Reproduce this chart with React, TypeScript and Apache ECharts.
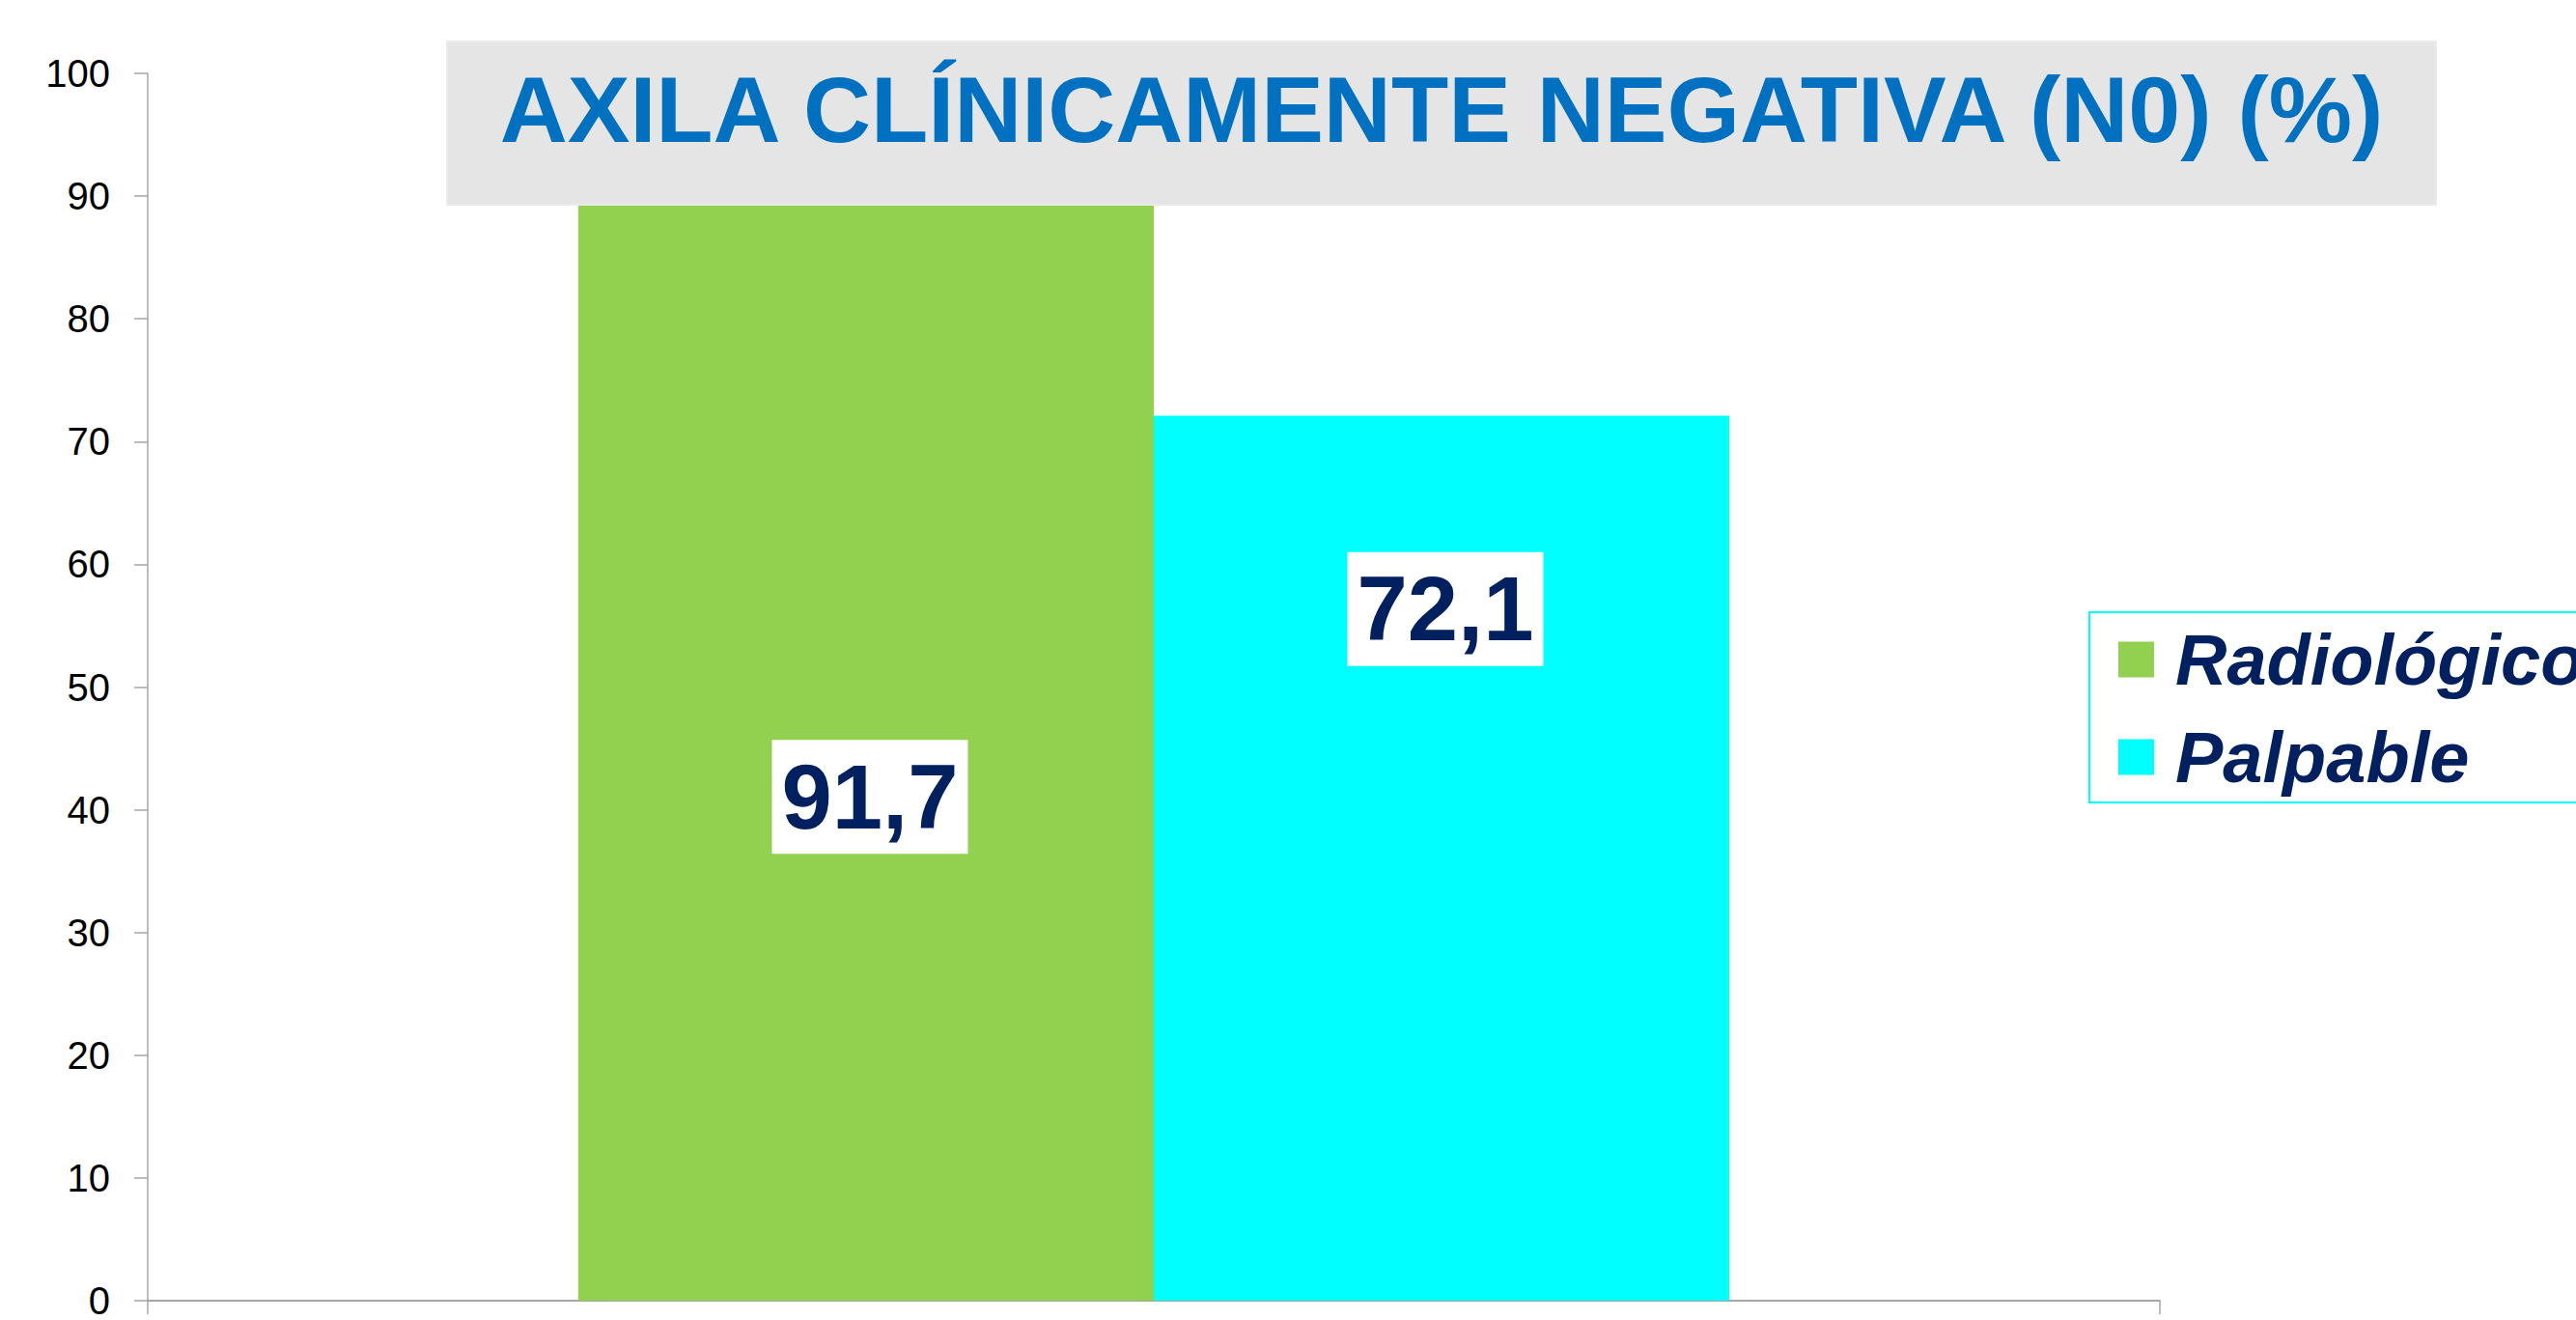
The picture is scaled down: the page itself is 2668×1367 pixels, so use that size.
import React, { useEffect, useRef } from "react";
import * as echarts from "echarts";

const titleText = "AXILA CLÍNICAMENTE NEGATIVA (N0) (%)";
const categories = [""];
const seriesNames = ["Radiológico", "Palpable"];
const radiologicoValues = [91.7];
const palpableValues = [72.1];
const yTicks = { min: 0, max: 100, interval: 10 };

const GREEN = "#92D050";
const CYAN = "#00FFFF";
const NAVY = "#002060";
const AXIS = "#A6A6A6";
const FONT = "Liberation Sans, Arial, sans-serif";

const fmt = (v: number) => String(v).replace(".", ",");

export default function App() {
  const ref = useRef<HTMLDivElement>(null);
  useEffect(() => {
    document.body.style.margin = "0";
    const chart = echarts.init(ref.current!, undefined, { renderer: "svg" });
    const labelBase = {
      show: true,
      position: "inside",
      formatter: (p: any) => fmt(p.value),
      color: NAVY,
      fontFamily: FONT,
      fontWeight: "bold",
      fontSize: 94,
      backgroundColor: "#FFFFFF",
      padding: [12, 10, 12, 10],
    };
    chart.setOption({
      animation: false,
      backgroundColor: "#FFFFFF",
      grid: { left: 153, right: 431, top: 76, bottom: 15, containLabel: false },
      xAxis: {
        type: "category",
        data: categories,
        axisLine: { show: true, lineStyle: { color: AXIS, width: 2 } },
        axisTick: { show: true, length: 14, lineStyle: { color: AXIS, width: 1.5 } },
        axisLabel: { show: false },
        splitLine: { show: false },
      },
      yAxis: {
        type: "value",
        min: yTicks.min,
        max: yTicks.max,
        interval: yTicks.interval,
        axisLine: { show: true, lineStyle: { color: AXIS, width: 1.5 } },
        axisTick: { show: true, length: 14, lineStyle: { color: AXIS, width: 1.5 } },
        axisLabel: { color: "#000000", fontFamily: FONT, fontSize: 40, margin: 39 },
        splitLine: { show: false },
      },
      legend: {
        orient: "vertical",
        left: 2189,
        top: 641,
        itemWidth: 37,
        itemHeight: 37,
        itemGap: 27,
        icon: "rect",
        data: seriesNames,
        textStyle: {
          color: NAVY,
          fontFamily: FONT,
          fontWeight: "bold",
          fontStyle: "italic",
          fontSize: 74,
          lineHeight: 62,
          padding: [0, 0, 0, 17],
        },
      },
      series: [
        {
          name: seriesNames[0],
          type: "bar",
          data: radiologicoValues,
          itemStyle: { color: GREEN },
          barGap: "0%",
          barCategoryGap: "42.8%",
          label: { ...labelBase, offset: [4, 61] },
        },
        {
          name: seriesNames[1],
          type: "bar",
          data: palpableValues,
          itemStyle: { color: CYAN },
          barGap: "0%",
          barCategoryGap: "42.8%",
          label: { ...labelBase, offset: [4, -258] },
        },
      ],
      graphic: [
        {
          type: "rect",
          z: 10,
          shape: { x: 463, y: 43, width: 2060, height: 169 },
          style: { fill: "#E5E5E5", stroke: "#EBEBEB", lineWidth: 2 },
        },
        {
          type: "text",
          z: 11,
          x: 1493,
          y: 113,
          style: {
            text: titleText,
            fill: "#0070C0",
            font: `bold 97px ${FONT}`,
            align: "center",
            verticalAlign: "middle",
          },
        },
        {
          type: "rect",
          z: 5,
          shape: { x: 2164, y: 634, width: 700, height: 197 },
          style: { fill: "none", stroke: CYAN, lineWidth: 2 },
        },
      ],
    });
    return () => chart.dispose();
  }, []);
  return (
    <div
      ref={ref}
      style={{ position: "fixed", left: 0, top: 0, width: 2668, height: 1367 }}
    />
  );
}
